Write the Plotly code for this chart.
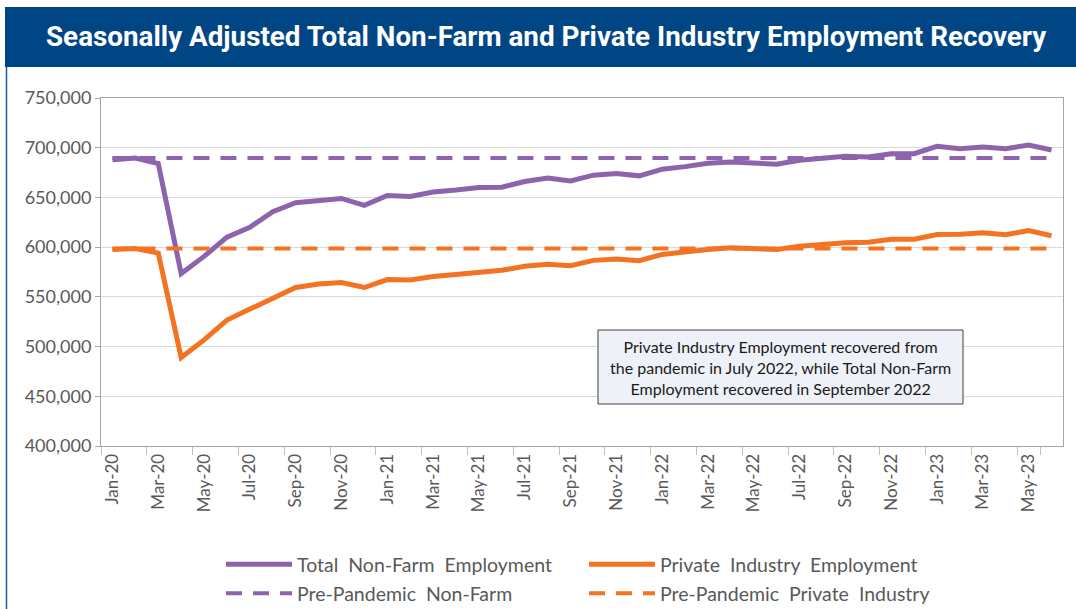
import plotly.graph_objects as go

months = ["Jan-20","Feb-20","Mar-20","Apr-20","May-20","Jun-20","Jul-20","Aug-20","Sep-20","Oct-20","Nov-20","Dec-20",
          "Jan-21","Feb-21","Mar-21","Apr-21","May-21","Jun-21","Jul-21","Aug-21","Sep-21","Oct-21","Nov-21","Dec-21",
          "Jan-22","Feb-22","Mar-22","Apr-22","May-22","Jun-22","Jul-22","Aug-22","Sep-22","Oct-22","Nov-22","Dec-22",
          "Jan-23","Feb-23","Mar-23","Apr-23","May-23","Jun-23"]

total_nonfarm = [688000, 689700, 684000, 573400, 590700, 610000, 620000, 635700, 644700, 647400, 649000, 642000,
                 652000, 651000, 655500, 657400, 660000, 660300, 666000, 669400, 666500, 672400, 674000, 671700,
                 678400, 681000, 684400, 685700, 684200, 683400, 687400, 690000, 691400, 690700, 694000, 694000,
                 701400, 699000, 700700, 699000, 702700, 697700]

private_industry = [597700, 598700, 594000, 489000, 506700, 526700, 537700, 549000, 559400, 563000, 564400, 559400,
                    567400, 567000, 570400, 572400, 575000, 576700, 580700, 582700, 581400, 586700, 588000, 586400,
                    592700, 595400, 597700, 599400, 598000, 597700, 601000, 603000, 604400, 605000, 608000, 608000,
                    612700, 613000, 614400, 612400, 616700, 611400]

pre_pandemic_nonfarm = 689700
pre_pandemic_private = 598700

tick_labels = months[::2]

NB = "\u00a0"
series_names = [f"Total{NB}{NB}Non-Farm{NB}{NB}Employment",
                f"Private{NB}{NB}Industry{NB}{NB}Employment",
                f"Pre-Pandemic{NB}{NB}Non-Farm",
                f"Pre-Pandemic{NB}{NB}Private{NB}{NB}Industry"]

PURPLE = "#8E63AD"
ORANGE = "#F47322"
GRAY_TXT = "#595959"
FONT = "Lato, Open Sans, sans-serif"

fig = go.Figure()
fig.add_trace(go.Scatter(x=months, y=total_nonfarm, mode="lines", name=series_names[0],
                         line=dict(color=PURPLE, width=5), legend="legend"))
fig.add_trace(go.Scatter(x=months, y=private_industry, mode="lines", name=series_names[1],
                         line=dict(color=ORANGE, width=5), legend="legend2"))
fig.add_trace(go.Scatter(x=months, y=[pre_pandemic_nonfarm]*len(months), mode="lines", name=series_names[2],
                         line=dict(color=PURPLE, width=4, dash="16px,11px"), legend="legend3"))
fig.add_trace(go.Scatter(x=months, y=[pre_pandemic_private]*len(months), mode="lines", name=series_names[3],
                         line=dict(color=ORANGE, width=4, dash="16px,11px"), legend="legend4"))

L, R, T, B = 101, 13, 98, 163
W, H = 1076, 609
pw, ph = W - L - R, H - T - B

def px_x(x):
    return (x - L) / pw

def px_y(y):
    return (H - B - y) / ph

shapes = [
    # title bar
    dict(type="rect", xref="paper", yref="paper", x0=px_x(5), x1=px_x(1080), y0=px_y(67), y1=px_y(7),
         fillcolor="#004684", line=dict(width=0), layer="above"),
    # left border
    dict(type="line", xref="paper", yref="paper", x0=px_x(6.5), x1=px_x(6.5), y0=px_y(67), y1=px_y(612),
         line=dict(color="#1F5AA6", width=1.5)),
    # note box
    dict(type="rect", xref="paper", yref="paper", x0=px_x(598), x1=px_x(963), y0=px_y(404), y1=px_y(330),
         fillcolor="#EEF1F7", line=dict(color="#404040", width=1), layer="above"),
]

annotations = [
    dict(text="<b>Seasonally Adjusted Total Non-Farm and Private Industry Employment Recovery</b>",
         xref="paper", yref="paper", x=px_x(546), y=px_y(37), showarrow=False,
         font=dict(family="Roboto, sans-serif", size=27.8, color="white"),
         xanchor="center", yanchor="middle"),
    dict(text="Private Industry Employment recovered from<br>the pandemic in July 2022, while Total Non-Farm<br>Employment recovered in September 2022",
         xref="paper", yref="paper", x=px_x(780.5), y=px_y(367), showarrow=False,
         font=dict(family=FONT, size=16, color="#1a1a1a"), align="center",
         xanchor="center", yanchor="middle"),
]

def leg(xp, yp):
    return dict(orientation="h", x=px_x(xp), y=px_y(yp), xanchor="left", yanchor="top",
                itemwidth=66, font=dict(size=19.5, color=GRAY_TXT), bgcolor="rgba(0,0,0,0)")

fig.update_layout(
    width=W, height=H,
    margin=dict(l=L, r=R, t=T, b=B, autoexpand=False),
    paper_bgcolor="white", plot_bgcolor="white",
    font=dict(family=FONT, color=GRAY_TXT),
    shapes=shapes, annotations=annotations,
    showlegend=True,
    legend=leg(221, 545),
    legend2=leg(584, 545),
    legend3=leg(221, 574),
    legend4=leg(584, 574),
)

fig.update_xaxes(
    type="category", range=[-0.5, len(months) - 0.5],
    tickmode="array", tickvals=tick_labels, ticktext=tick_labels,
    tickangle=-90, tickson="boundaries", ticks="outside", ticklen=8, tickcolor="#BFBFBF",
    showgrid=False, showline=True, linecolor="#A6A6A6", linewidth=1, mirror=True,
    tickfont=dict(size=17, color=GRAY_TXT, family=FONT),
)
fig.update_yaxes(
    range=[400000, 750000], dtick=50000, tickformat=",",
    showgrid=True, gridcolor="#D9D9D9", gridwidth=1,
    showline=True, linecolor="#A6A6A6", linewidth=1, mirror=True,
    ticks="outside", ticklen=5, tickcolor="#A6A6A6",
    tickfont=dict(size=18, color=GRAY_TXT, family=FONT), zeroline=False,
)

fig.write_html("out.html", config={"displayModeBar": False},
               post_script="document.body.style.margin='0';document.body.style.overflow='hidden';")
